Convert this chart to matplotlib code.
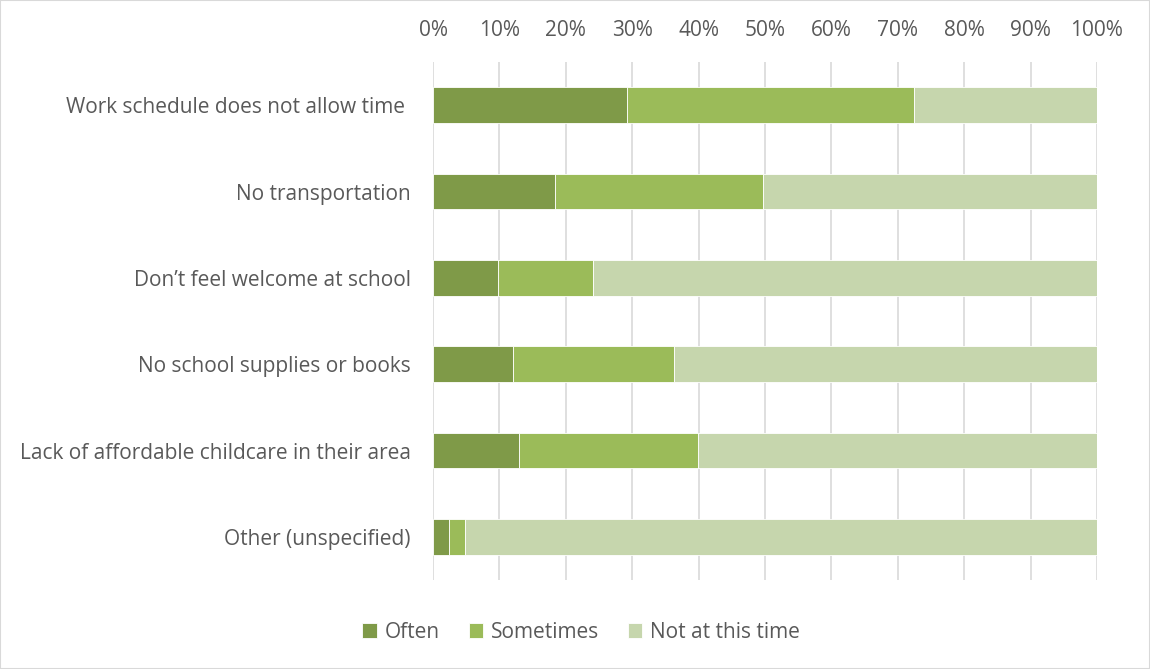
import matplotlib.pyplot as plt
import numpy as np
from matplotlib.patches import Rectangle

plt.rcParams['font.family'] = ['Open Sans', 'DejaVu Sans']

categories = [
    'Work schedule does not allow time ',
    'No transportation',
    'Don\u2019t feel welcome at school',
    'No school supplies or books',
    'Lack of affordable childcare in their area',
    'Other (unspecified)',
]
often = [29.2, 18.3, 9.8, 12.0, 12.9, 2.4]
sometimes = [43.2, 31.4, 14.3, 24.3, 27.0, 2.4]
not_now = [100 - a - b for a, b in zip(often, sometimes)]

series = [
    ('Often', often, '#7f9a48'),
    ('Sometimes', sometimes, '#9bbb59'),
    ('Not at this time', not_now, '#c6d6ad'),
]

text_color = '#595959'
grid_color = '#d9d9d9'
fs = 15

fig = plt.figure(figsize=(11.5, 6.69), dpi=100)
ax = fig.add_axes([433 / 1150, 1 - 580 / 669, (1097 - 433) / 1150, (580 - 62) / 669])

y = np.arange(len(categories))
left = np.zeros(len(categories))
for name, vals, color in series:
    ax.barh(y, vals, left=left, height=0.41, color=color, edgecolor='white',
            linewidth=0.6, label=name, zorder=3)
    left += np.array(vals)

ax.set_ylim(len(categories) - 0.5, -0.5)
ax.set_xlim(0, 100)
ax.set_xticks(np.arange(0, 101, 10))
ax.set_xticklabels([f'{v}%' for v in range(0, 101, 10)])
ax.xaxis.tick_top()
ax.tick_params(axis='x', length=0, pad=15, labelsize=fs, labelcolor=text_color)
ax.set_yticks(y)
ax.set_yticklabels(categories)
ax.tick_params(axis='y', length=0, pad=16, labelsize=fs, labelcolor=text_color)
ax.grid(axis='x', color=grid_color, linewidth=1.2, zorder=0)
for s in ax.spines.values():
    s.set_visible(False)

fig.legend(loc='center', bbox_to_anchor=(581 / 1150, 1 - 632 / 669), ncol=3,
           frameon=False, fontsize=fs, labelcolor=text_color,
           handlelength=0.7, handleheight=0.7, handletextpad=0.35, columnspacing=1.4)

fig.patches.append(Rectangle((0, 0), 1, 1, transform=fig.transFigure, fill=False,
                             edgecolor=grid_color, linewidth=1.5))

fig.savefig('out.png', dpi=100)
